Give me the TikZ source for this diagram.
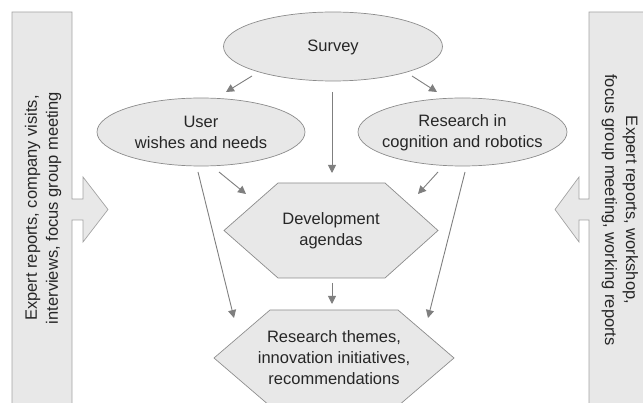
\documentclass[tikz,border=0pt]{standalone}
\usepackage{fontspec}
\setmainfont{Liberation Sans}
\usetikzlibrary{arrows.meta,shapes.geometric}
\definecolor{shapefill}{HTML}{E8E8E8}
\definecolor{shapeline}{HTML}{8C8C8C}
\definecolor{arrowcol}{HTML}{7F7F7F}
\begin{document}
\begin{tikzpicture}[x=1pt,y=-1pt,
  gshape/.style={fill=shapefill,draw=shapeline,line width=0.7pt},
  txt/.style={font=\fontsize{16.5}{21}\selectfont,align=center,inner sep=0pt,text=black!85},
  conn/.style={draw=arrowcol,line width=0.9pt,-{Triangle[length=8pt,width=8pt]}}]
\useasboundingbox (0,0) rectangle (643,403);
% side boxes with arrows
\draw[gshape,draw=shapeline!80] (12,412) -- (12,12) -- (72,12) -- (72,199) -- (83,199) -- (83,177) -- (108,209.5) -- (83,242) -- (83,220) -- (72,220) -- (72,412) -- cycle;
\draw[gshape,draw=shapeline!80] (650,12) -- (589,12) -- (589,199) -- (579,199) -- (579,177) -- (555,209.5) -- (579,242) -- (579,220) -- (589,220) -- (589,412) -- (650,412) -- cycle;
\node[txt,rotate=90] (lefttext) at (43,208) {Expert reports, company visits,\\interviews, focus group meeting};
\node[txt,rotate=-90] (righttext) at (620,210) {Expert reports, workshop,\\focus group meeting, working reports};
% ellipses
\draw[gshape] (333,46.5) ellipse [x radius=109.5,y radius=34.5];
\node[txt] (survey) at (333,47) {Survey};
\draw[gshape] (201,132) ellipse [x radius=104,y radius=34];
\node[txt] (user) at (201,132.5) {User\\wishes and needs};
\draw[gshape] (462.5,132) ellipse [x radius=104.5,y radius=34];
\node[txt] (research) at (462.5,132.5) {Research in\\cognition and robotics};
% hexagons
\draw[gshape] (224,230.5) -- (278,183) -- (385,183) -- (438,230.5) -- (385,278) -- (278,278) -- cycle;
\node[txt] (dev) at (331,231) {Development\\agendas};
\draw[gshape] (214,358) -- (270,310) -- (398,310) -- (454,358) -- (398,406) -- (270,406) -- cycle;
\node[txt] (themes) at (334,358) {Research themes,\\innovation initiatives,\\recommendations};
% connector end points
\coordinate (s1) at (252,76); \coordinate (u1) at (226,92);
\coordinate (s2) at (412,76); \coordinate (r1) at (437,92);
\coordinate (s3) at (332,92); \coordinate (d1) at (332,173);
\coordinate (u2) at (219,172); \coordinate (d2) at (246,194);
\coordinate (r2) at (438,172); \coordinate (d3) at (418,194);
\coordinate (u3) at (198,172); \coordinate (t1) at (234,318);
\coordinate (r3) at (465,172); \coordinate (t2) at (428,318);
\coordinate (d4) at (332,283); \coordinate (t3) at (332,304);
\draw[conn] (s1) -- (u1);
\draw[conn] (s2) -- (r1);
\draw[conn] (s3) -- (d1);
\draw[conn] (u2) -- (d2);
\draw[conn] (r2) -- (d3);
\draw[conn] (u3) -- (t1);
\draw[conn] (r3) -- (t2);
\draw[conn] (d4) -- (t3);
\end{tikzpicture}
\end{document}
